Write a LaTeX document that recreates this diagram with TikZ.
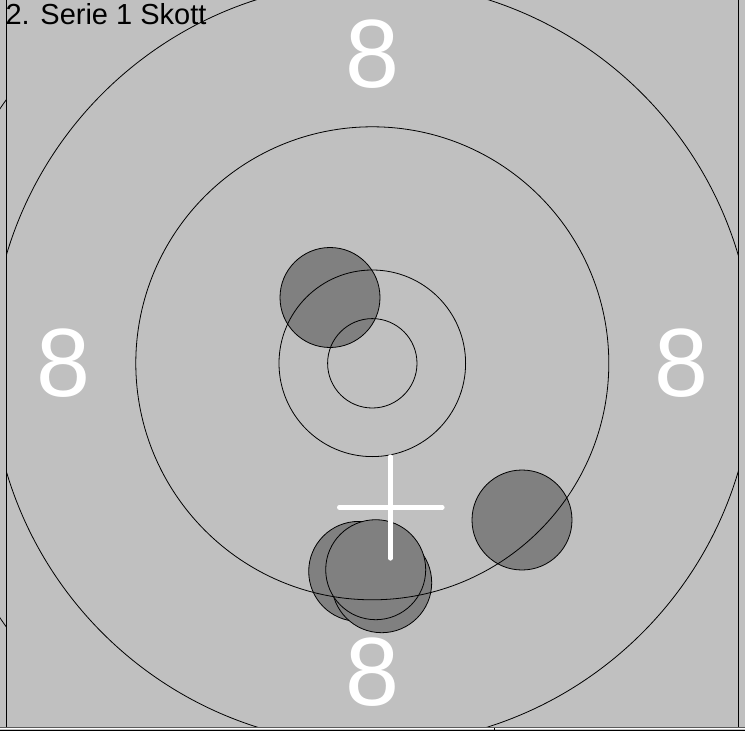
\documentclass[tikz,border=0pt]{standalone}
\usepackage{fontspec}
\setmainfont{Liberation Sans}
\usetikzlibrary{calc}
\definecolor{targetgray}{RGB}{192,192,192}
\definecolor{hitgray}{RGB}{128,128,128}
\definecolor{edgegray}{RGB}{90,90,90}

\begin{document}
\begin{tikzpicture}[x=1pt,y=-1pt,
  ring/.style={draw=black,line width=.8pt},
  hit/.style={draw=black,fill=hitgray,line width=.8pt},
  ringnum/.style={text=white,inner sep=0pt,font=\fontsize{97}{97}\selectfont},
  aim/.style={draw=white,line width=4.6pt,line cap=round}]
\useasboundingbox[fill=targetgray] (0,0) rectangle (745,731);
\coordinate (c) at (372.3,363.3);
\coordinate (mpi) at (390.3,507.3);
% ring 7, only its edge left of the frame shows
\begin{scope}
\clip (0,0) rectangle (6.5,727);
\draw[ring] (c) circle[radius=451pt];
\end{scope}
\begin{scope}
\clip (6.5,0) rectangle (738.3,727.5);
% hits
\draw[hit] (330,297.5) circle[radius=50pt];
\draw[hit] (522,520) circle[radius=50pt];
\draw[hit] (358.7,571.4) circle[radius=50pt];
\draw[hit] (381.7,582.7) circle[radius=50pt];
\draw[hit] (375.7,569.7) circle[radius=50pt];
% rings
\foreach \r in {44.7,93.3,236.5,381.5}
  \draw[ring] (c) circle[radius=\r pt];
% aiming cross
\draw[aim] (mpi) ++(0,-50.6) -- ++(0,101.6);
\draw[aim] (mpi) ++(-51,0) -- ++(103,0);
\foreach \a/\n in {90/n,180/w,0/e,270/s}
  \node[ringnum] (eight\n) at ($(c)+(\a:309pt)$) {8};
\end{scope}
% frame
\draw[line width=1.3pt] (6.5,0) -- (6.5,728);
\draw[line width=1.5pt] (738.3,0) -- (738.3,728);
\draw[edgegray,line width=.8pt] (0,727.3) -- (745,727.3);
\draw[white,line width=1pt] (0,728.6) -- (745,728.6);
\draw[line width=1pt] (0,730) -- (745,730);
\draw[line width=.8pt] (494.4,727.5) -- (494.4,731);
\node[anchor=base west,inner sep=0pt,font=\fontsize{29}{29}\selectfont] (title) at (5.3,24) {2. Serie 1 Skott};
\end{tikzpicture}
\end{document}
